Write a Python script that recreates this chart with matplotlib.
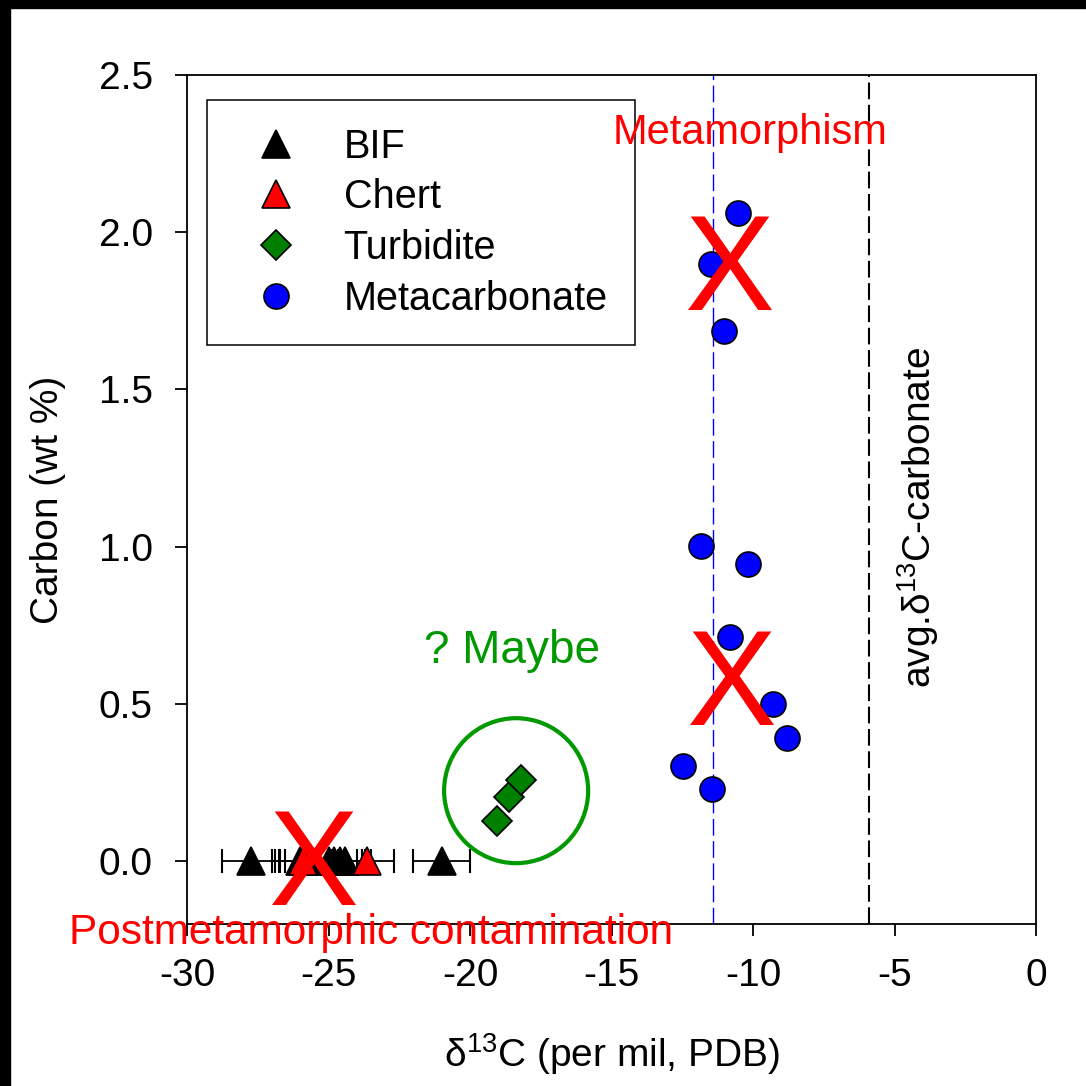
import numpy as np
import matplotlib
matplotlib.use("Agg")
import matplotlib.pyplot as plt
from matplotlib.patches import Ellipse, Rectangle

plt.rcParams['font.family'] = ['Liberation Sans', 'DejaVu Sans']
plt.rcParams['mathtext.fontset'] = 'custom'
plt.rcParams['mathtext.rm'] = 'Liberation Sans'
plt.rcParams['mathtext.default'] = 'regular'
plt.rcParams['axes.unicode_minus'] = False

# data
bif_x = [-27.75, -26.0, -25.75, -25.6, -25.0, -24.8, -24.6, -24.4, -21.0]
bif_xerr = [1.0, 1.0, 0.95, 0.95, 1.0, 1.0, 0.9, 0.9, 1.0]
bif_y = [0.0] * len(bif_x)

chert_x = [-25.9, -23.65]
chert_xerr = [1.0, 0.95]
chert_y = [0.0, 0.0]

turb_x = [-19.05, -18.62, -18.2]
turb_y = [0.127, 0.204, 0.258]

meta_x = [-10.53, -11.48, -11.02, -11.84, -10.18, -10.81, -9.29, -8.80, -12.47, -11.45]
meta_y = [2.06, 1.90, 1.686, 1.002, 0.945, 0.712, 0.499, 0.391, 0.302, 0.229]

metamorph_line = -11.4
carbonate_line = -5.9

xticks = [-30, -25, -20, -15, -10, -5, 0]
yticks = [0.0, 0.5, 1.0, 1.5, 2.0, 2.5]

fig = plt.figure(figsize=(10.86, 10.86), dpi=100)
ax = fig.add_axes([187 / 1086, 162 / 1086, 849 / 1086, 849 / 1086])

# error bars first
ax.errorbar(bif_x, bif_y, xerr=bif_xerr, fmt='none', ecolor='black', elinewidth=1.3,
            capsize=8.5, capthick=1.5, zorder=2)
ax.errorbar(chert_x, chert_y, xerr=chert_xerr, fmt='none', ecolor='black', elinewidth=1.3,
            capsize=8.5, capthick=1.5, zorder=2)

ax.plot(bif_x, bif_y, '^', color='black', ms=20, mec='black', mew=1.2, label='BIF', zorder=3)
ax.plot(chert_x, chert_y, '^', color='red', ms=20, mec='black', mew=1.2, label='Chert', zorder=3)
ax.plot(turb_x, turb_y, 'D', color='#008000', ms=15.5, mec='black', mew=1.2, label='Turbidite', zorder=3)
ax.plot(meta_x, meta_y, 'o', color='blue', ms=18, mec='black', mew=1.2,
        label='Metacarbonate', zorder=3)

ax.axvline(metamorph_line, color='blue', lw=1.0, linestyle=(0, (12, 4)), zorder=1)
ax.axvline(carbonate_line, color='black', lw=1.5, linestyle=(0, (8, 2.7)), zorder=1)

ax.add_patch(Ellipse((-18.37, 0.224), 5.09, 0.461, fill=False, edgecolor='#009900', lw=3.0, zorder=4))

# annotations (drawn above the legend, as in the original)
ax.text(-10.81, 1.753, 'X', color='red', fontsize=97, ha='center', va='baseline', zorder=7)
ax.text(-10.74, 0.433, 'X', color='red', fontsize=97, ha='center', va='baseline', zorder=7)
ax.text(-25.51, -0.14, 'X', color='red', fontsize=97, ha='center', va='baseline', zorder=7)
ax.text(-10.11, 2.315, 'Metamorphism', color='red', fontsize=30, ha='center', va='center', zorder=7)
ax.text(-18.52, 0.668, '? Maybe', color='#009900', fontsize=33, ha='center', va='center', zorder=7)
ax.text(-23.5, -0.228, 'Postmetamorphic contamination', color='red', fontsize=30.5,
        ha='center', va='center', clip_on=False, zorder=8)
ax.text(-4.17, 1.094, r'avg.δ$^{13}$C-carbonate', color='black', fontsize=28,
        rotation=90, ha='center', va='center', zorder=7)

ax.set_xlim(-30, 0)
ax.set_ylim(-0.2, 2.5)
ax.set_xticks(xticks)
ax.set_xticklabels([str(v) for v in xticks])
ax.set_yticks(yticks)
ax.set_yticklabels([f'{v:.1f}' for v in yticks])
ax.tick_params(direction='out', length=8.5, width=1.3, labelsize=28)
ax.tick_params(axis='x', pad=16)
ax.tick_params(axis='y', pad=16)
for s in ax.spines.values():
    s.set_linewidth(1.3)

ax.set_xlabel(r'δ$^{13}$C (per mil, PDB)', fontsize=28, labelpad=27)
ax.set_ylabel('Carbon (wt %)', fontsize=28, labelpad=24)

leg = ax.legend(loc='upper left', bbox_to_anchor=(0.0236, 0.9706), borderaxespad=0,
                fontsize=28.5, frameon=True, fancybox=False, edgecolor='black',
                borderpad=0.7, handlelength=2.1, handletextpad=0.65, labelspacing=0.32,
                numpoints=1)
leg.get_frame().set_linewidth(1.1)
leg.get_frame().set_alpha(1)
leg.set_zorder(5)

# black border strips along the left and top of the original image
fig.patches.append(Rectangle((0, 0), 10 / 1086, 1, transform=fig.transFigure,
                             color='black', zorder=0))
fig.patches.append(Rectangle((0, 1 - 8 / 1086), 1, 8 / 1086, transform=fig.transFigure,
                             color='black', zorder=0))

fig.savefig('out.png', dpi=100)
